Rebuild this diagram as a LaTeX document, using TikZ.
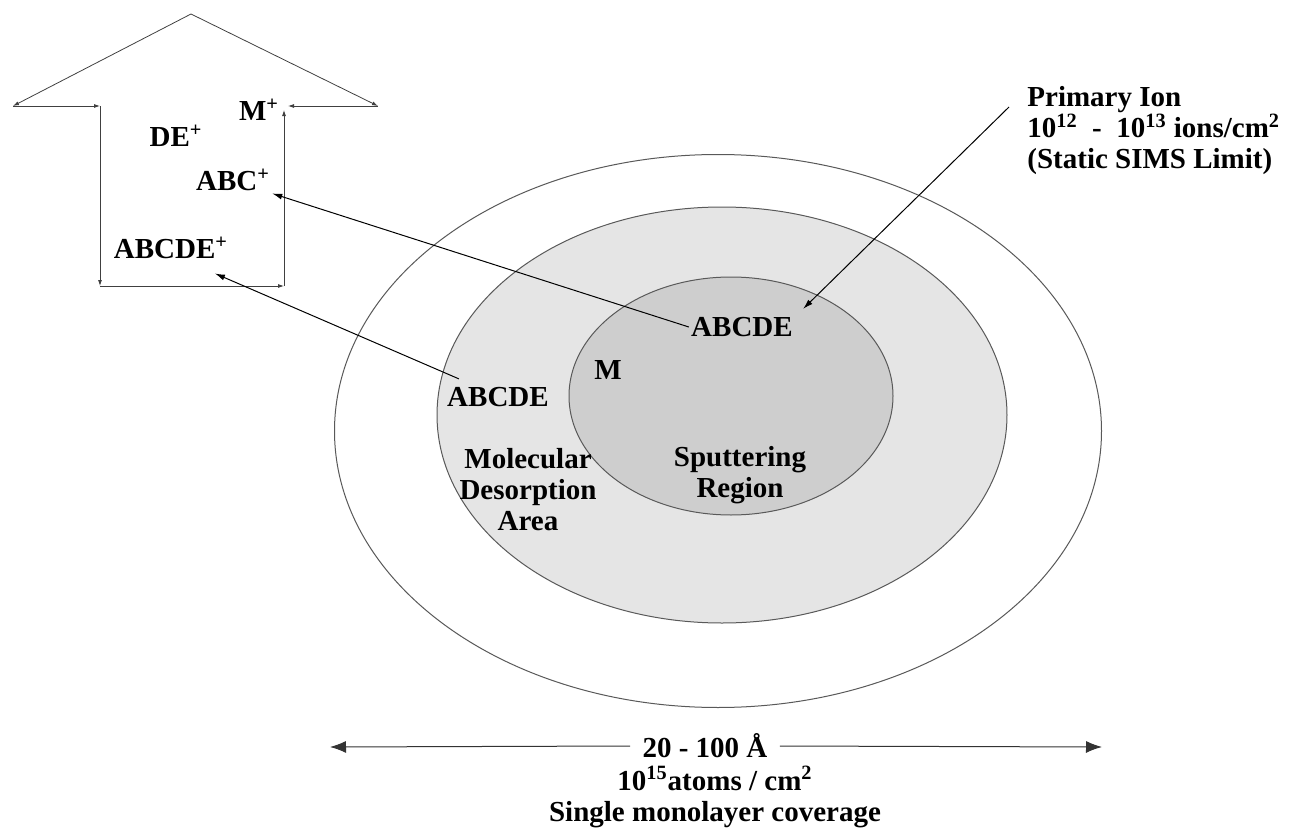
\documentclass[tikz,border=0pt]{standalone}
\usepackage{fontspec}
\setmainfont{Liberation Serif}
\usetikzlibrary{shapes.geometric, arrows.meta, positioning}

\definecolor{desorbfill}{RGB}{229,229,229}
\definecolor{sputterfill}{RGB}{206,206,206}
\newcommand{\tagfont}{\fontsize{14.5}{15.5}\selectfont\bfseries}

\begin{document}
\begin{tikzpicture}[
    x=0.5pt, y=-0.5pt,
    ring/.style={draw=black!65, ellipse, line width=0.5pt},
    tag/.style={font=\tagfont, inner sep=1pt},
    ptr/.style={-{Latex[length=5pt,width=3pt]}, line width=0.5pt},
    widthtip/.style={-{Latex[length=8pt,width=6pt]}, line width=0.5pt, draw=black!80},
    outline/.style={-{Latex[length=3pt,width=2pt]}, line width=0.4pt, draw=black!75}
]
\useasboundingbox (0,0) rectangle (1292,830);

% Rings
\node[ring, fill=white, minimum width=383.5pt, minimum height=276.5pt] (surface) at (718,431) {};
\node[ring, fill=desorbfill, minimum width=285pt, minimum height=208pt] (desorb) at (722,415) {};
\node[ring, fill=sputterfill, minimum width=162pt, minimum height=119pt] (sputter) at (731,396) {};

% Labels on the surface
\node[tag] (abcin) at (742,327) {ABCDE};
\node[tag] (mol) at (608,370) {M};
\node[tag] (abcout) at (498,397) {ABCDE};
\node[tag, align=center] (desorbtxt) at (528,490) {Molecular\\Desorption\\Area};
\node[tag, align=center] (sputtertxt) at (740,475) {Sputtering\\Region};

% Primary ion
\node[tag, align=left, anchor=north west] (ion) at (1025,84) {Primary Ion\\10\textsuperscript{12} \ - \ 10\textsuperscript{13} ions/cm\textsuperscript{2}\\(Static SIMS Limit)};
\coordinate (iontail) at (1009,107);
\draw[ptr] (iontail) -- ([xshift=4pt,yshift=3pt]abcin.north east);

% Big arrow of ejected ions
\draw[outline] (191,14) -- (13,106);
\draw[outline] (13,106) -- (100,106);
\draw[outline] (100,106) -- (100,286);
\draw[outline] (100,286) -- (284,286);
\draw[outline] (284,286) -- (284,110);
\draw[outline] (378,106) -- (288,106);
\draw[outline] (191,14) -- (378,106);

\node[tag] (mplus) at (259,110) {M\textsuperscript{+}};
\node[tag] (deplus) at (176,136) {DE\textsuperscript{+}};
\node[tag] (abcplus) at (233,180) {ABC\textsuperscript{+}};
\node[tag] (abcdeplus) at (171,248) {ABCDE\textsuperscript{+}};

\draw[ptr] (abcin.west) -- (abcplus.south east);
\draw[ptr] ([xshift=7pt,yshift=3pt]abcout.north west) -- ([xshift=22pt,yshift=-6pt]abcdeplus.south);

% Scale
\node[tag, fill=white, inner xsep=6pt] (span) at (705,746) {20 - 100 Å};
\coordinate (spanl) at (330,747);
\coordinate (spanr) at (1102,747);
\draw[widthtip] (span.west) -- (spanl);
\draw[widthtip] (span.east) -- (spanr);
\node[tag, align=center] (cover) at (715,797) {10\textsuperscript{15}atoms / cm\textsuperscript{2}\\Single monolayer coverage};

\end{tikzpicture}
\end{document}
